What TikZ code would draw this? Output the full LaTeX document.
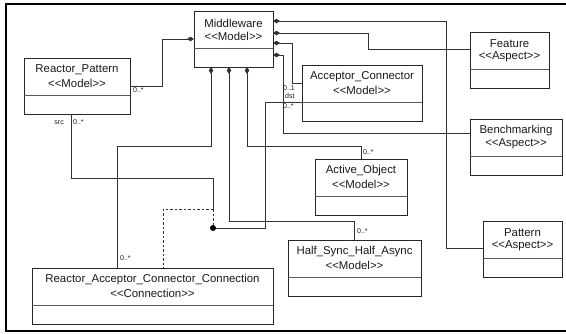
\documentclass[tikz,border=0pt]{standalone}
\usepackage{fontspec}
\setmainfont{Liberation Sans}
\usetikzlibrary{arrows.meta}
\newcommand{\umlclass}[6]{%
  \node[classbox, minimum width=#4pt, minimum height=56pt] (#1) at (#2,#3) {};
  \draw[sepline] ([yshift=-37pt]#1.north west) -- ([yshift=-37pt]#1.north east);
  \node[titletext] (#1-t) at ([yshift=-12pt]#1.north) {#5};
  \node[titletext] (#1-s) at ([yshift=-25pt]#1.north) {<{}<#6>{}>};
}
\begin{document}
\begin{tikzpicture}[x=1pt,y=-1pt,
  classbox/.style={draw=black!85, line width=0.8pt, inner sep=0pt, outer sep=0pt, anchor=north west},
  sepline/.style={draw=black!65, line width=0.8pt},
  titletext/.style={font=\fontsize{11.4}{13}\selectfont, inner sep=0pt, text=black!90},
  mult/.style={font=\fontsize{7}{8}\selectfont, inner sep=0pt, text=black!90},
  conn/.style={draw=black!80, line width=0.8pt},
  comp/.style={conn, {Diamond[length=7pt,width=4.5pt]}-},
  dashconn/.style={conn, dash pattern=on 2.5pt off 2pt},
  frame/.style={draw=black, line width=2pt}]
\useasboundingbox (0,0) rectangle (566,333);
\clip (0,0) rectangle (566,333);
\draw[frame] (6,4) rectangle (575,331);

\umlclass{mw}{194}{11}{79}{Middleware}{Model}
\umlclass{rp}{24}{58}{106}{Reactor\_Pattern}{Model}
\umlclass{acc}{302}{65}{120}{Acceptor\_Connector}{Model}
\umlclass{feat}{470}{32}{79}{Feature}{Aspect}
\umlclass{bench}{470}{119}{92}{Benchmarking}{Aspect}
\umlclass{ao}{315}{159}{92}{Active\_Object}{Model}
\umlclass{pat}{483}{221}{79}{Pattern}{Aspect}
\umlclass{hs}{288}{240}{133}{Half\_Sync\_Half\_Async}{Model}
\umlclass{rcc}{32}{268}{241}{Reactor\_Acceptor\_Connector\_Connection}{Connection}

% compositions from Middleware (right side)
\draw[comp] (mw.east |- 0,21) -| (446,248) -- (pat.west |- 0,248);
\draw[comp] (mw.east |- 0,33) -| (368,49) -- (feat.west |- 0,49);
\draw[comp] (mw.east |- 0,43) -| (292,83) -- (acc.west |- 0,83);
\draw[comp] (mw.east |- 0,55) -| (283,133) -- (bench.west |- 0,133);
% from Reactor_Pattern
\draw[comp] (mw.west |- 0,39) -| (162,86) -- (rp.east |- 0,86);
% bottom side
\draw[comp] (mw.south -| 211,0) |- (117,146) -- (rcc.north -| 117,0);
\draw[comp] (mw.south -| 229,0) |- (354,221) -- (hs.north -| 354,0);
\draw[comp] (mw.south -| 247,0) |- (361,146) -- (ao.north -| 361,0);

% association Reactor_Pattern -- Acceptor_Connector with association class
\coordinate (jn) at (213,228);
\coordinate (jt) at (213,209);
\draw[conn] (rp.south -| 71,0) |- (213,178) -- (jt);
\draw[dashconn] (jt) -- (jn);
\draw[conn] (jn) -- (265,228) |- (acc.west |- 0,102);
\fill[black] (jn) circle (3pt);
\draw[dashconn] (jt) -| (rcc.north -| 163,0);

% multiplicities
\node[mult, anchor=west] (l1) at (133,90) {0..*};
\node[mult, anchor=east] (l2) at (64,123) {src};
\node[mult, anchor=west] (l3) at (73,122) {0..*};
\node[mult, anchor=west] (l4) at (283,88) {0..1};
\node[mult, anchor=west] (l5) at (285,96) {dst};
\node[mult, anchor=west] (l6) at (283,106) {0..*};
\node[mult, anchor=west] (l7) at (363,152) {0..*};
\node[mult, anchor=west] (l8) at (357,231) {0..*};
\node[mult, anchor=west] (l9) at (120,258) {0..*};
\end{tikzpicture}
\end{document}
